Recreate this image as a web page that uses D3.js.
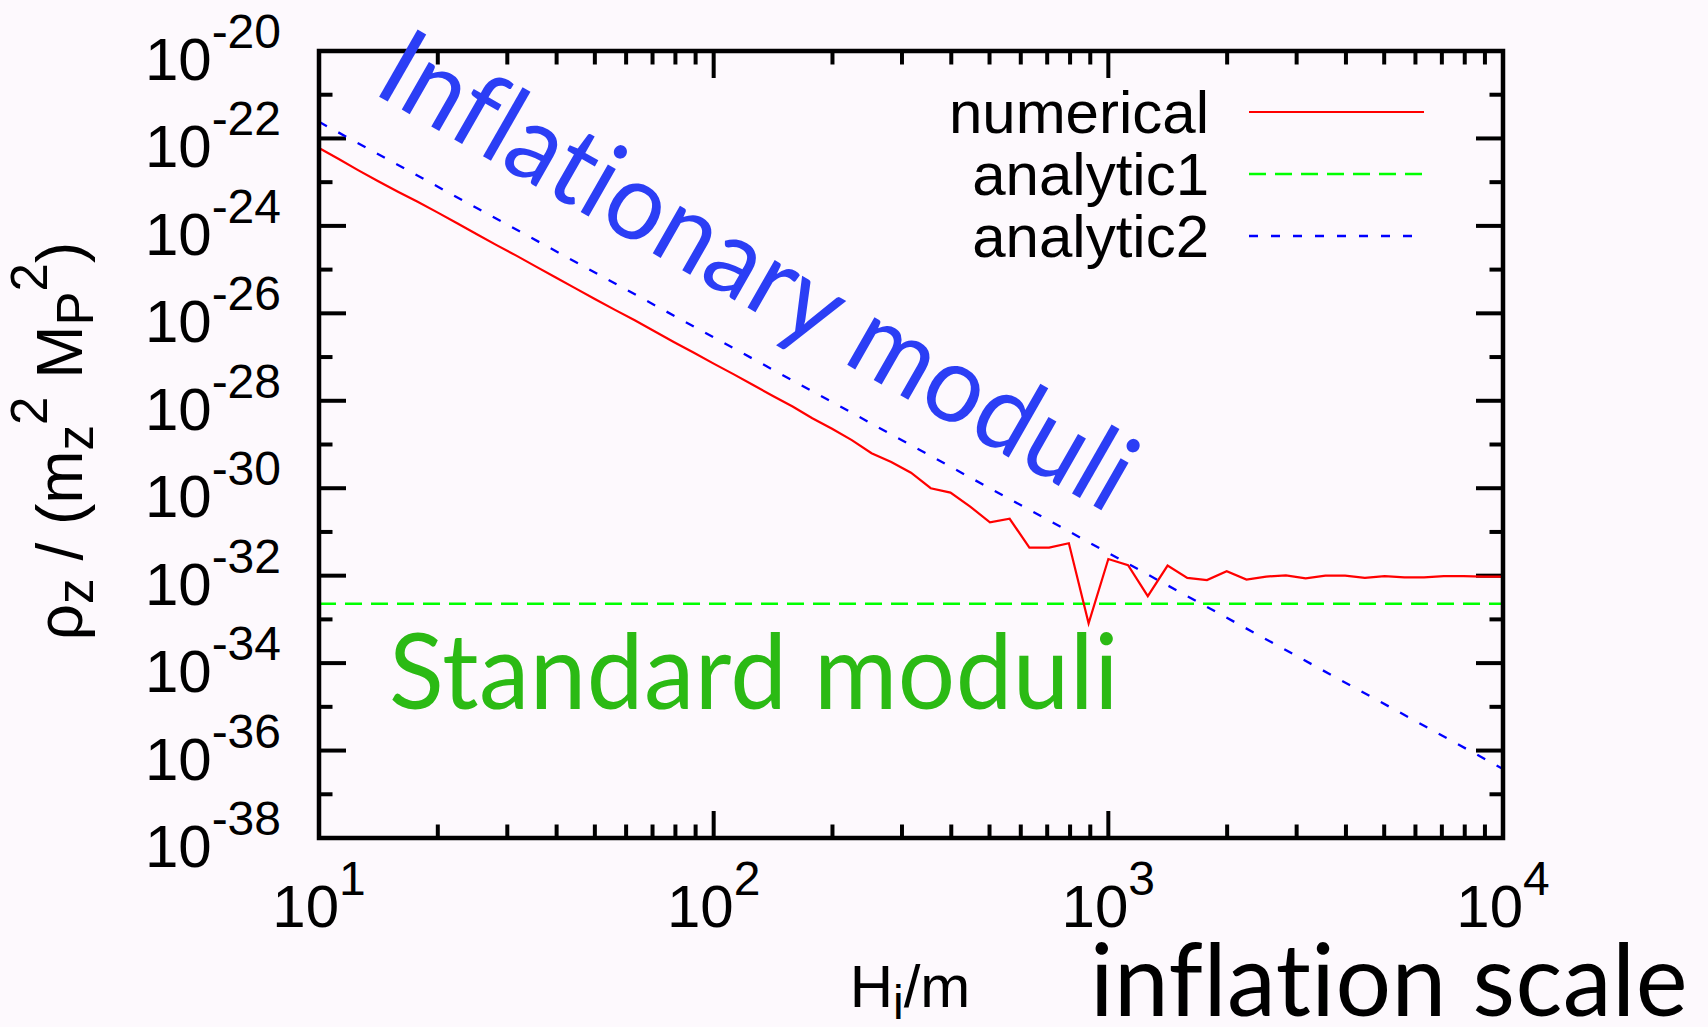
<!DOCTYPE html>
<html><head><meta charset="utf-8">
<script src="https://cdn.jsdelivr.net/npm/d3@7/dist/d3.min.js"></script>
<style>
html,body{margin:0;padding:0;background:#fdf9fd}
svg{display:block}
.anno{font-variant-ligatures:none;font-feature-settings:"liga" 0,"clig" 0,"dlig" 0,"calt" 0;letter-spacing:0.5px}
</style>
</head><body>
<svg id="chart" width="1708" height="1027"></svg>
<script>
// ---------------- data ----------------
const numericalH = [10, 11.22, 12.59, 14.13, 15.85, 17.78, 19.95, 22.39, 25.12, 28.18,
  31.62, 35.48, 39.81, 44.67, 50.12, 56.23, 63.10, 70.79, 79.43, 89.13,
  100, 112.2, 125.9, 141.3, 158.5, 177.8, 199.5, 223.9, 251.2, 281.8,
  316.2, 354.8, 398.1, 446.7, 501.2, 562.3, 631.0, 707.9, 794.3, 891.3,
  1000, 1122, 1259, 1413, 1585, 1778, 1995, 2239, 2512, 2818,
  3162, 3548, 3981, 4467, 5012, 5623, 6310, 7079, 7943, 8913, 10000];
const numericalRho = [6.03e-23, 3.39e-23, 1.86e-23, 1.05e-23, 6.03e-24, 3.55e-24, 2.04e-24, 1.15e-24, 6.46e-25, 3.63e-25,
  2.09e-25, 1.17e-25, 6.61e-26, 3.72e-26, 2.09e-26, 1.20e-26, 6.92e-27, 3.89e-27, 2.19e-27, 1.26e-27,
  7.08e-28, 4.07e-28, 2.29e-28, 1.29e-28, 7.41e-29, 3.98e-29, 2.29e-29, 1.26e-29, 6.31e-30, 3.98e-30,
  2.26e-30, 1.00e-30, 7.94e-31, 3.80e-31, 1.66e-31, 2.00e-31, 4.37e-32, 4.37e-32, 5.50e-32, 8.13e-34,
  2.40e-32, 1.74e-32, 3.39e-33, 1.70e-32, 8.91e-33, 7.94e-33, 1.26e-32, 8.13e-33, 9.55e-33, 1.02e-32,
  8.71e-33, 1.00e-32, 1.00e-32, 8.91e-33, 9.77e-33, 9.12e-33, 9.12e-33, 9.77e-33, 9.77e-33, 9.55e-33, 9.55e-33];
const analytic1H = [10, 10000];
const analytic1Rho = [2.29e-33, 2.29e-33];
const analytic2H = [10, 100, 1000, 10000];
const analytic2Rho = [2.40e-22, 2.82e-27, 3.31e-32, 3.80e-37];

const xTickValues = [10, 100, 1000, 10000];
const xTickExponents = ["1", "2", "3", "4"];
const xMinorValues = [20,30,40,50,60,70,80,90,200,300,400,500,600,700,800,900,2000,3000,4000,5000,6000,7000,8000,9000];
const yTickValues = [1e-38,1e-36,1e-34,1e-32,1e-30,1e-28,1e-26,1e-24,1e-22,1e-20];
const yTickExponents = ["-38","-36","-34","-32","-30","-28","-26","-24","-22","-20"];
const yMinorValues = [1e-37,1e-35,1e-33,1e-31,1e-29,1e-27,1e-25,1e-23,1e-21];

const seriesNames = ["numerical", "analytic1", "analytic2"];
const seriesColors = ["#ff0000", "#00ff00", "#0000ff"];

// ---------------- layout ----------------
const L = 319, R = 1503, T = 51, B = 838;
const svg = d3.select("#chart");
const FONT = "'Liberation Sans', Arial, Helvetica, sans-serif";
const ANNO = "Lato, 'Open Sans', sans-serif";

svg.append("rect").attr("width", 1708).attr("height", 1027).attr("fill", "#fdf9fd");

const x = d3.scaleLog().domain([10, 1e4]).range([L, R]);
const y = d3.scaleLog().domain([1e-38, 1e-20]).range([B, T]);

const MAJ = 27, MIN = 13.5;
const tk = svg.append("g").attr("stroke", "#000").attr("stroke-width", 4);
xTickValues.forEach(v => {
  tk.append("line").attr("x1", x(v)).attr("x2", x(v)).attr("y1", B).attr("y2", B - MAJ);
  tk.append("line").attr("x1", x(v)).attr("x2", x(v)).attr("y1", T).attr("y2", T + MAJ);
});
xMinorValues.forEach(v => {
  tk.append("line").attr("x1", x(v)).attr("x2", x(v)).attr("y1", B).attr("y2", B - MIN);
  tk.append("line").attr("x1", x(v)).attr("x2", x(v)).attr("y1", T).attr("y2", T + MIN);
});
yTickValues.forEach(v => {
  tk.append("line").attr("x1", L).attr("x2", L + MAJ).attr("y1", y(v)).attr("y2", y(v));
  tk.append("line").attr("x1", R).attr("x2", R - MAJ).attr("y1", y(v)).attr("y2", y(v));
});
yMinorValues.forEach(v => {
  tk.append("line").attr("x1", L).attr("x2", L + MIN).attr("y1", y(v)).attr("y2", y(v));
  tk.append("line").attr("x1", R).attr("x2", R - MIN).attr("y1", y(v)).attr("y2", y(v));
});

// ---------------- data lines ----------------
const line = d3.line().x(d => x(d[0])).y(d => y(d[1]));
const plotG = svg.append("g");
plotG.append("path")
  .attr("d", line(analytic1H.map((h, i) => [h, analytic1Rho[i]])))
  .attr("fill", "none").attr("stroke", seriesColors[1]).attr("stroke-width", 2.5)
  .attr("stroke-dasharray", "17 9");
plotG.append("path")
  .attr("d", line(analytic2H.map((h, i) => [h, analytic2Rho[i]])))
  .attr("fill", "none").attr("stroke", seriesColors[2]).attr("stroke-width", 2.3)
  .attr("stroke-dasharray", "9 13");
plotG.append("path")
  .attr("d", line(numericalH.map((h, i) => [h, numericalRho[i]])))
  .attr("fill", "none").attr("stroke", seriesColors[0]).attr("stroke-width", 2.2)
  .attr("stroke-linejoin", "miter");

// border
svg.append("rect").attr("x", L).attr("y", T).attr("width", R - L).attr("height", B - T)
  .attr("fill", "none").attr("stroke", "#000").attr("stroke-width", 4.5);

// ---------------- tick labels ----------------
const lab = svg.append("g").attr("font-family", FONT).attr("fill", "#000");
xTickValues.forEach((v, i) => {
  const t = lab.append("text").attr("x", x(v)).attr("y", 927).attr("text-anchor", "middle")
    .attr("font-size", 60);
  t.append("tspan").text("10");
  t.append("tspan").attr("font-size", 48).attr("dy", -32).text(xTickExponents[i]);
});
yTickValues.forEach((v, i) => {
  const t = lab.append("text").attr("x", 281).attr("y", y(v) + 29).attr("text-anchor", "end")
    .attr("font-size", 60);
  t.append("tspan").text("10");
  t.append("tspan").attr("font-size", 48).attr("dy", -32).text(yTickExponents[i]);
});

// axis titles
const xt = lab.append("text").attr("x", 910).attr("y", 1007).attr("text-anchor", "middle").attr("font-size", 60);
xt.append("tspan").text("H");
xt.append("tspan").attr("font-size", 48).attr("dy", 12).text("i");
xt.append("tspan").attr("dy", -12).text("/m");

const yt = lab.append("text").attr("transform", "translate(82,441) rotate(-90)")
  .attr("text-anchor", "middle").attr("font-size", 64);
yt.append("tspan").text("ρ");
yt.append("tspan").attr("font-size", 51).attr("dy", 11).text("z");
yt.append("tspan").attr("dy", -11).text(" / (m");
yt.append("tspan").attr("font-size", 51).attr("dy", 11).text("z");
yt.append("tspan").attr("font-size", 51).attr("dy", -46).text("2");
yt.append("tspan").attr("dy", 35).text(" M");
yt.append("tspan").attr("font-size", 51).attr("dy", 11).text("P");
yt.append("tspan").attr("font-size", 51).attr("dy", -46).text("2");
yt.append("tspan").attr("dy", 35).text(")");

// ---------------- legend ----------------
const legY = [112, 174, 236];
const legDash = [null, "17 9", "9 13"];
const legW = [2.2, 2.5, 2.3];
seriesNames.forEach((n, i) => {
  lab.append("text").attr("x", 1209).attr("y", legY[i] + 21).attr("text-anchor", "end")
    .attr("font-size", 60).text(n);
  const ln = svg.append("line").attr("x1", 1249).attr("x2", 1424).attr("y1", legY[i]).attr("y2", legY[i])
    .attr("stroke", seriesColors[i]).attr("stroke-width", legW[i]);
  if (legDash[i]) ln.attr("stroke-dasharray", legDash[i]);
});

// ---------------- annotations ----------------
svg.append("text").attr("class", "anno").attr("transform", "translate(371,92) rotate(29.8)")
  .attr("font-family", ANNO).attr("font-size", 108).attr("fill", "#2b3ef5")
  .attr("textLength", 850).attr("lengthAdjust", "spacingAndGlyphs")
  .text("Inflationary moduli");
svg.append("text").attr("class", "anno").attr("x", 389).attr("y", 709)
  .attr("font-family", ANNO).attr("font-size", 104).attr("fill", "#2bba14")
  .attr("textLength", 730).attr("lengthAdjust", "spacingAndGlyphs")
  .text("Standard moduli");
svg.append("text").attr("class", "anno").attr("x", 1090).attr("y", 1016)
  .attr("font-family", ANNO).attr("font-size", 100).attr("fill", "#000")
  .attr("textLength", 598).attr("lengthAdjust", "spacingAndGlyphs")
  .text("inflation scale");
</script>
</body></html>
